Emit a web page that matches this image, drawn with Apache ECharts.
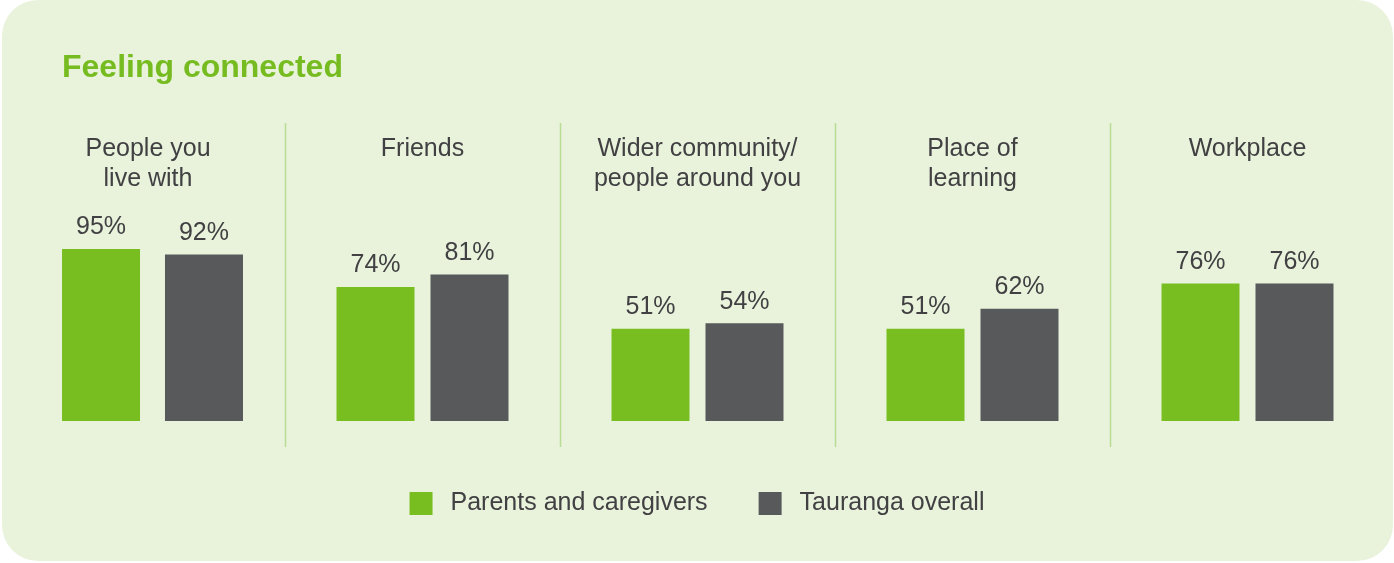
<!DOCTYPE html>
<html>
<head>
<meta charset="utf-8">
<script src="https://cdn.jsdelivr.net/npm/echarts@6/dist/echarts.min.js"></script>
<style>
  html, body { margin: 0; padding: 0; background: #ffffff; }
  #chart { width: 1394px; height: 563px; }
</style>
</head>
<body>
<div id="chart"></div>
<script>
const categories = [
  'People you\nlive with',
  'Friends',
  'Wider community/\npeople around you',
  'Place of\nlearning',
  'Workplace'
];
const parents = [95, 74, 51, 51, 76];
const overall = [92, 81, 54, 62, 76];
const seriesNames = ['Parents and caregivers', 'Tauranga overall'];

const GREEN = '#78be20';
const GREY = '#58595b';
const TEXT = '#414042';
const FONT = '"Liberation Sans", Arial, Helvetica, sans-serif';

// panel layout
const panelLeft = [15, 285, 560, 835, 1110];
const PANEL_W = 275;
const panelGap = ['32%', '20.5%', '20.5%', '20.5%', '20.5%'];

const grids = [];
const xAxes = [];
const yAxes = [];
const series = [];

categories.forEach((cat, i) => {
  grids.push({ left: panelLeft[i], width: PANEL_W, top: 240, bottom: 142 });
  xAxes.push({
    type: 'category',
    gridIndex: i,
    position: 'top',
    data: [cat],
    axisLine: { show: false },
    axisTick: { show: false },
    axisLabel: {
      margin: 106,
      verticalAlign: 'top',
      fontSize: 25,
      lineHeight: 30,
      fontFamily: FONT,
      color: TEXT,
      padding: i === 0 ? [0, 9, 0, 0] : 0
    }
  });
  yAxes.push({ type: 'value', gridIndex: i, min: 0, max: 100, show: false });

  [parents, overall].forEach((vals, s) => {
    series.push({
      type: 'bar',
      name: seriesNames[s],
      xAxisIndex: i,
      yAxisIndex: i,
      data: [vals[i]],
      barWidth: 78,
      barGap: panelGap[i],
      itemStyle: { color: s === 0 ? GREEN : GREY },
      label: {
        show: true,
        position: 'top',
        distance: 9,
        formatter: '{c}%',
        fontSize: 25,
        fontFamily: FONT,
        color: TEXT
      },
      emphasis: { disabled: true }
    });
  });
});

// panel dividers
const dividers = [285.5, 560.5, 835.5, 1110.5].map(x => ({
  type: 'line',
  z: 1,
  shape: { x1: x, y1: 123, x2: x, y2: 447 },
  style: { stroke: '#b9dc95', lineWidth: 1.5 }
}));

const chart = echarts.init(document.getElementById('chart'));
chart.setOption({
  animation: false,
  graphic: [
    {
      type: 'rect',
      z: 0,
      shape: { x: 2, y: 0, width: 1391, height: 561, r: 36 },
      style: { fill: '#e9f3dc' }
    },
    ...dividers
  ],
  title: {
    text: 'Feeling connected',
    left: 57,
    top: 47,
    textStyle: {
      fontSize: 32,
      fontWeight: 'bold',
      fontFamily: FONT,
      color: '#76bc21'
    }
  },
  legend: {
    data: seriesNames,
    left: 'center',
    top: 486,
    icon: 'rect',
    itemWidth: 23,
    itemHeight: 23,
    itemGap: 51,
    textStyle: {
      fontSize: 25,
      fontFamily: FONT,
      color: TEXT,
      padding: [0, 0, 0, 13]
    }
  },
  tooltip: { show: false },
  grid: grids,
  xAxis: xAxes,
  yAxis: yAxes,
  series: series
});
</script>
</body>
</html>
